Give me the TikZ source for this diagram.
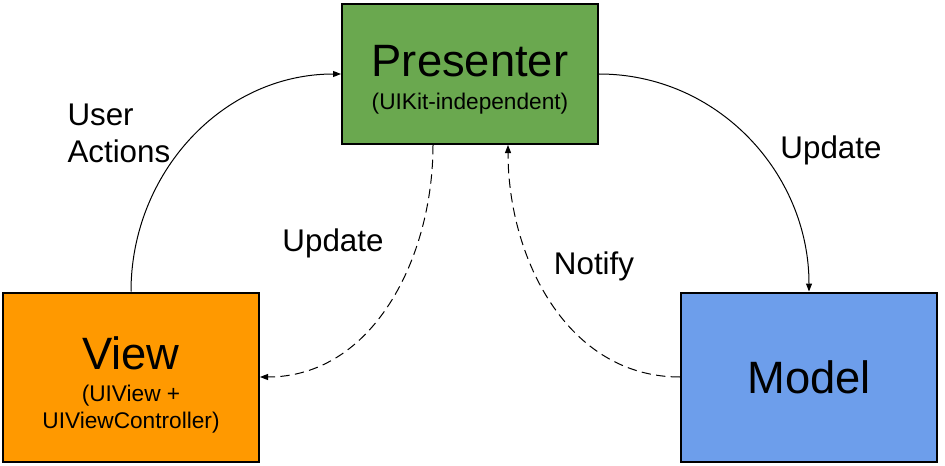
\documentclass[tikz,border=0pt]{standalone}
\usepackage{fontspec}
\setmainfont{Liberation Sans}
\usetikzlibrary{arrows.meta, positioning}
\definecolor{mvpGreen}{HTML}{6AA84F}
\definecolor{mvpOrange}{HTML}{FF9900}
\definecolor{mvpBlue}{HTML}{6D9EEB}
\tikzset{
  % thin connectors with small filled tips, heavy box outlines
  every picture/.append style = {line width=0.75pt, >={Triangle[length=6pt, width=4.5pt]}},
  block/.style     = {draw=black, line width=1.5pt, minimum width=192pt,
                      inner sep=0pt, align=center},
  flow/.style      = {->, black, line width=0.75pt},
  notice/.style    = {->, black, line width=0.75pt, dash pattern=on 7pt off 4pt},
  lbl/.style       = {font=\fontsize{23.5}{28}\selectfont},
}

\begin{document}
\begin{tikzpicture}[x=0.75pt, y=0.75pt]
  \useasboundingbox (0,0) rectangle (945,465);
  % the three parts (struts push the titles down a little)
  \node[block, fill=mvpGreen, minimum height=105pt] (presenter) at (470,391)
    {\fontsize{34}{40}\selectfont\rule{0pt}{32pt}Presenter\\[11pt]
     \fontsize{17}{21}\selectfont (UIKit-independent)};
  \node[block, fill=mvpOrange, minimum height=126.75pt] (view) at (131,88)
    {\fontsize{34}{40}\selectfont\rule{0pt}{37pt}View\\[10pt]
     \fontsize{17}{21}\selectfont (UIView +\\[4pt]
     \fontsize{17}{21}\selectfont UIViewController)};
  \node[block, fill=mvpBlue, minimum height=126.75pt] (model) at (809,88)
    {\fontsize{34}{40}\selectfont Model};
  % solid arrows
  \draw[flow] (view.north) to[out=90, in=180] (presenter.west);
  \draw[flow] (presenter.east) to[out=0, in=90] (model.north);
  % dashed arrows
  \draw[notice] ([xshift=-27.75pt]presenter.south) to[out=-90, in=0] (view.east);
  \draw[notice] (model.west) to[out=180, in=-90] ([xshift=28.5pt]presenter.south);
  % labels
  \node[lbl, align=left, anchor=west, inner sep=0pt] (useract) at (67,331.5) {User\\Actions};
  \node[lbl] (updmodel) at (831,315) {Update};
  \node[lbl] (updview) at (333,222) {Update};
  \node[lbl] (notify) at (594,199) {Notify};
\end{tikzpicture}
\end{document}
